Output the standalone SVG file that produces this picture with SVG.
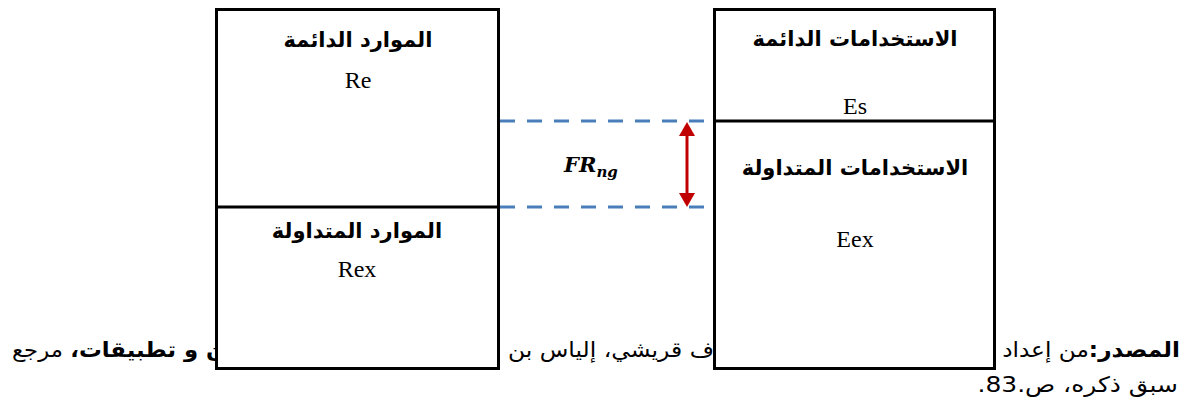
<svg xmlns="http://www.w3.org/2000/svg" width="1184" height="400" viewBox="0 0 1184 400">
<style>
.box{fill:#fff;stroke:#000;stroke-width:3}
.div{stroke:#000;stroke-width:3}
.ar{font-family:"DejaVu Sans","Liberation Sans",Arial,sans-serif;font-weight:bold;font-size:21px;fill:#000;direction:rtl}
.lat{font-family:"Liberation Serif","Times New Roman",serif;font-size:24px;fill:#000}
.foot{font-family:"DejaVu Sans","Liberation Sans",Arial,sans-serif;font-size:21.3px;fill:#000;direction:rtl}
.b{font-weight:bold}
.dash{stroke:#4a7ebb;stroke-width:3;stroke-dasharray:15 12;fill:none}
.red{fill:#c00000}
</style>
<g id="source">
<text class="foot" transform="translate(1180,357) scale(1.09,1)" x="0" y="0" text-anchor="start"><tspan class="b">المصدر:</tspan>من إعداد</text>
<text class="foot" transform="translate(1178,392) scale(1.17,1)" x="0" y="0" text-anchor="start">سبق ذكره، ص.83.</text>
<text class="foot" transform="translate(508,357) scale(1.1,1)" x="0" y="0" text-anchor="end">ف قريشي، إلياس بن</text>
<text class="foot" transform="translate(12,357) scale(1.07,1)" x="0" y="0" text-anchor="end"><tspan class="b">ن و تطبيقات،</tspan> مرجع</text>
</g>
<g id="connectors">
<line class="dash" x1="500" y1="121" x2="713" y2="121"/>
<line class="dash" x1="500" y1="207" x2="713" y2="207"/>
<line x1="687" y1="133" x2="687" y2="196" stroke="#c00000" stroke-width="3"/>
<polygon class="red" points="687,122 679,136 695,136"/>
<polygon class="red" points="687,207 679,193 695,193"/>
<text x="564" y="172" font-family="'DejaVu Serif','Liberation Serif',serif" font-style="italic" font-weight="bold" font-size="21px">FR<tspan font-size="15px" dy="5">ng</tspan></text>
</g>
<g id="resources">
<rect class="box" x="216.5" y="9.5" width="282" height="359"/>
<line class="div" x1="216.5" y1="207" x2="498.5" y2="207"/>
<text class="ar" x="358" y="47" text-anchor="middle">الموارد الدائمة</text>
<text class="lat" x="358" y="88" text-anchor="middle">Re</text>
<text class="ar" x="357" y="238" text-anchor="middle">الموارد المتداولة</text>
<text class="lat" x="357" y="277" text-anchor="middle">Rex</text>
</g>
<g id="uses">
<rect class="box" x="714.5" y="9.5" width="280" height="359"/>
<line class="div" x1="714.5" y1="121" x2="994.5" y2="121"/>
<text class="ar" x="855" y="46" text-anchor="middle">الاستخدامات الدائمة</text>
<text class="lat" x="855" y="114" text-anchor="middle">Es</text>
<text class="ar" x="855" y="175" text-anchor="middle">الاستخدامات المتداولة</text>
<text class="lat" x="855" y="247" text-anchor="middle">Eex</text>
</g>
</svg>
